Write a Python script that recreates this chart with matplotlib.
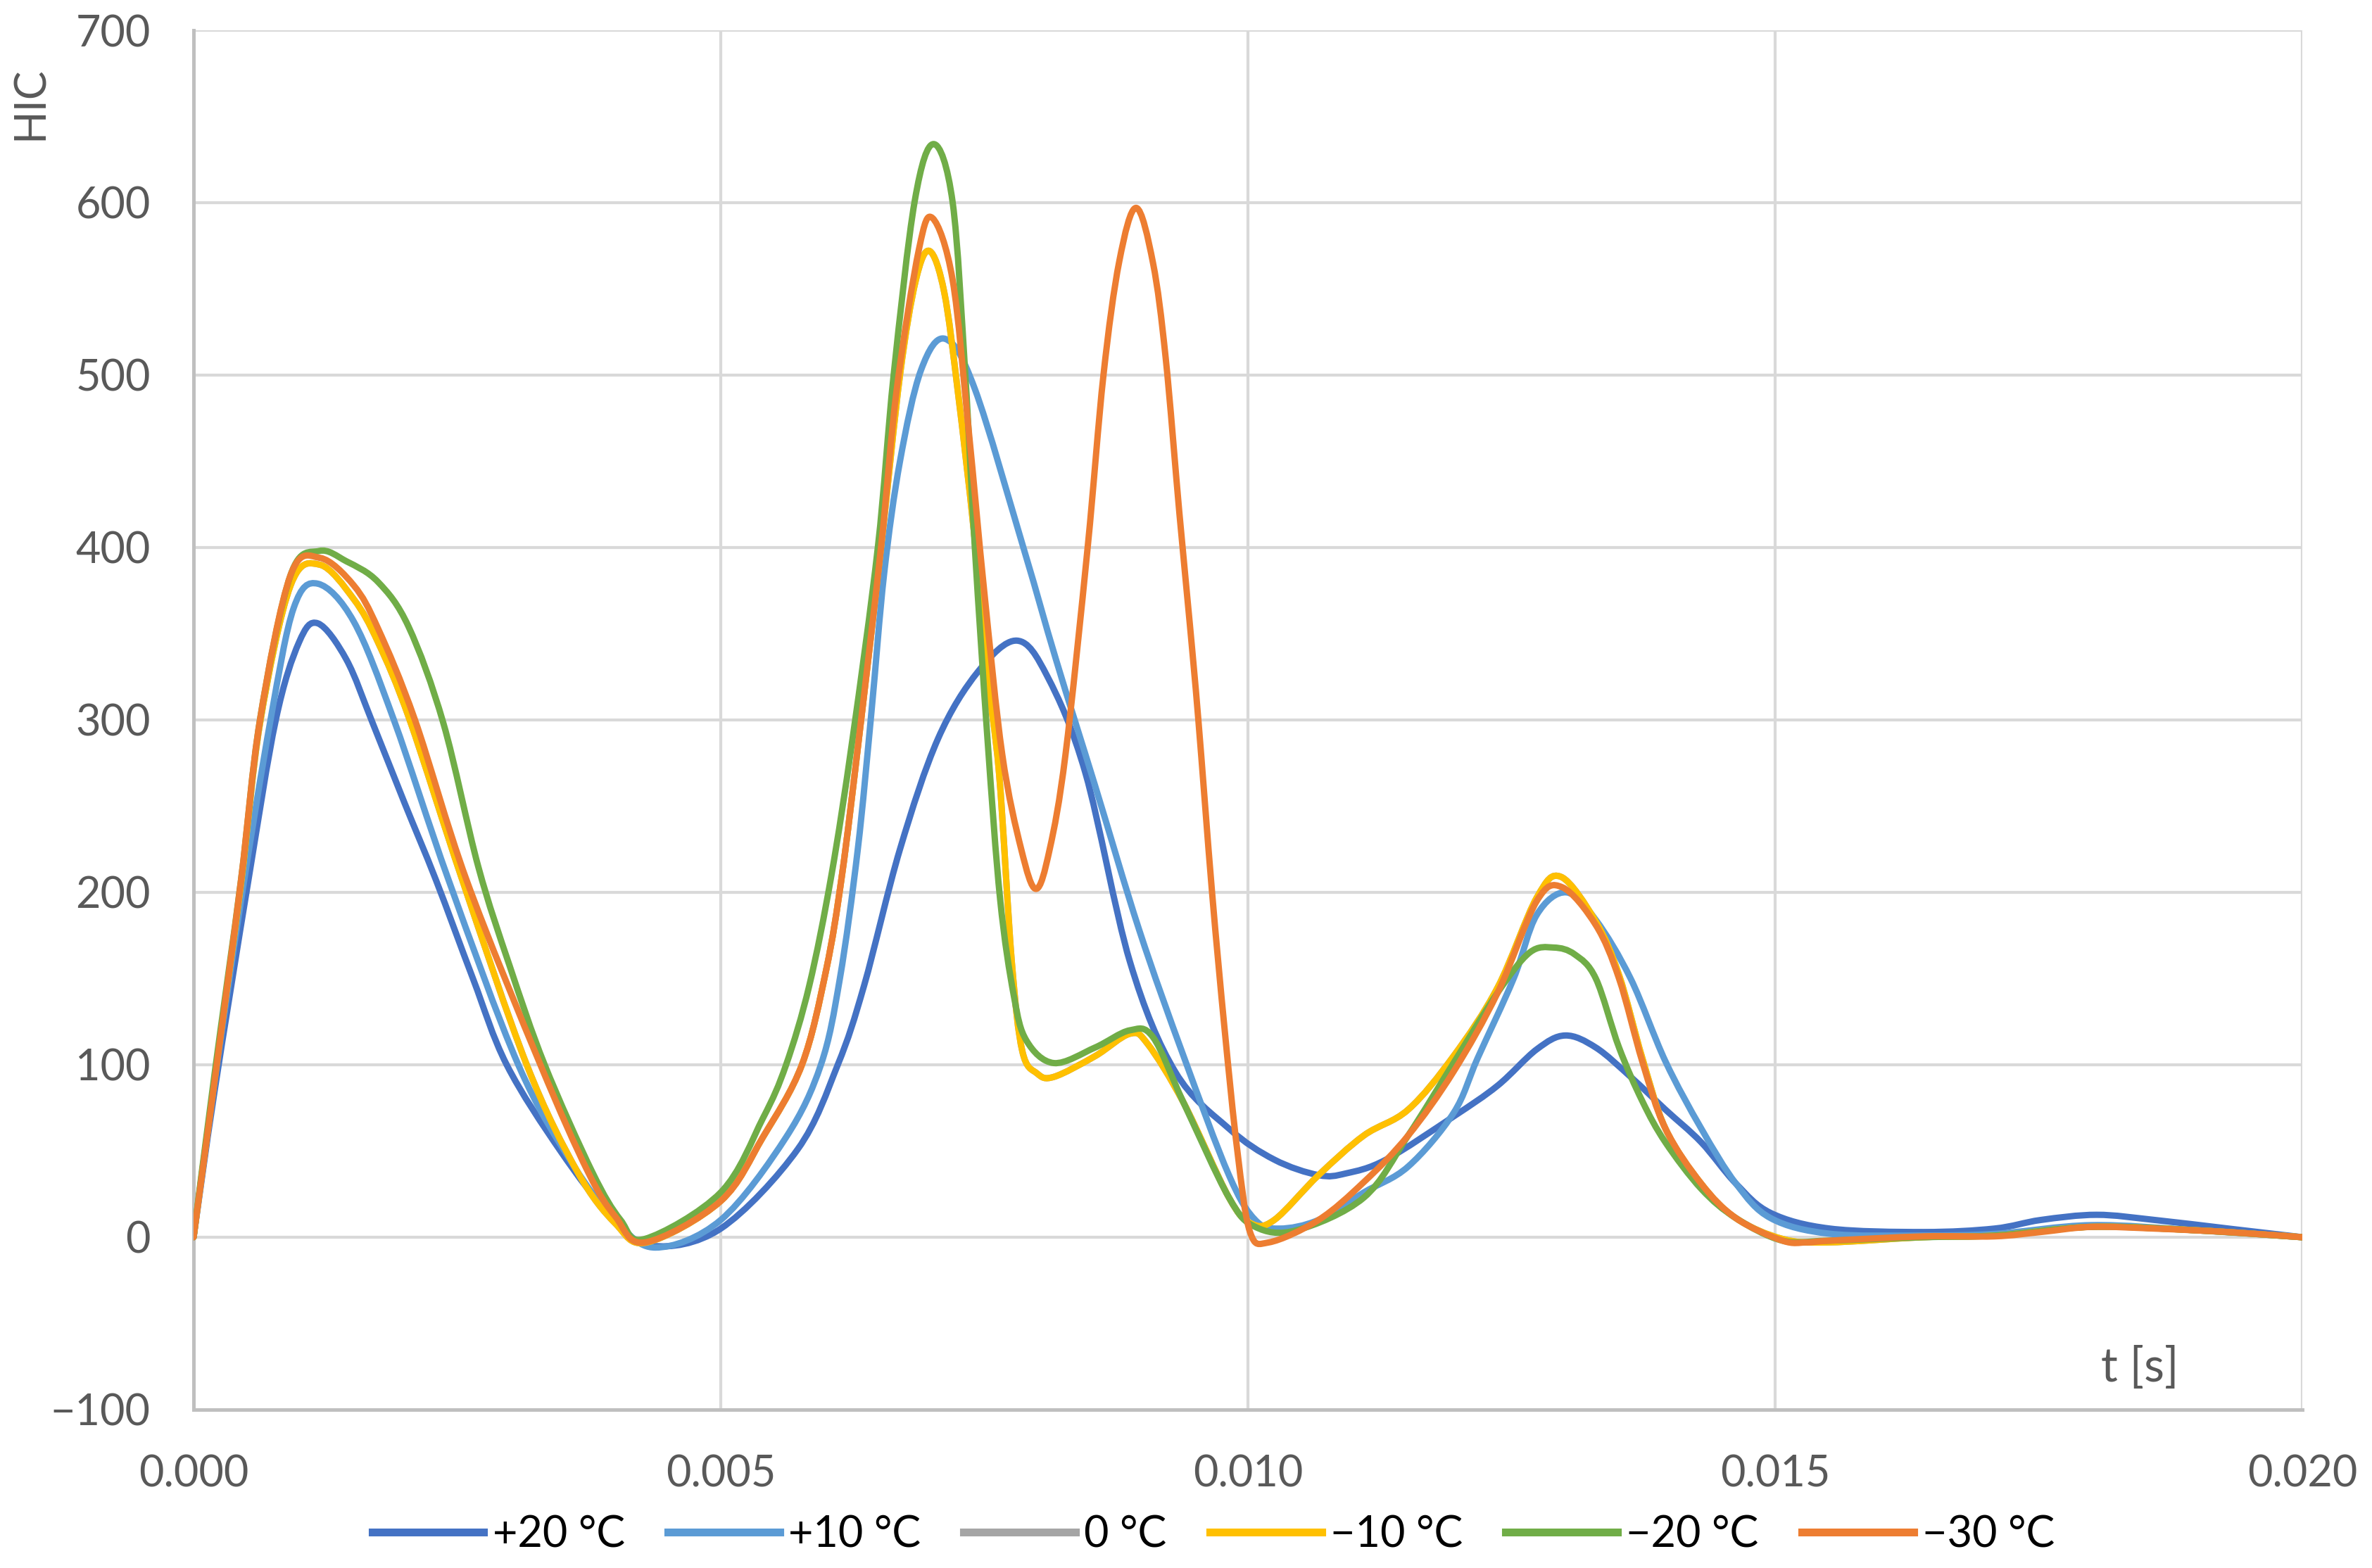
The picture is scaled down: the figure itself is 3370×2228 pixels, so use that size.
import matplotlib.pyplot as plt
from matplotlib.path import Path
from matplotlib.patches import PathPatch
from matplotlib.lines import Line2D
from matplotlib.ticker import FormatStrFormatter

plt.rcParams['font.family'] = ['Lato', 'DejaVu Sans']

# time in ms, HIC values
t_p20 = [0, 0.2, 0.52, 0.78, 1.0, 1.18, 1.45, 1.7, 2.0, 2.3, 2.65, 2.97, 3.48, 3.96, 4.35, 5.0,
         5.73, 6.11, 6.36, 6.7, 7.06, 7.44, 7.81, 8.1, 8.46, 8.88, 9.31, 9.82, 10.25, 10.67,
         10.93, 11.31, 11.95, 12.37, 12.74, 13.01, 13.3, 13.63, 13.96, 14.3, 14.63, 14.96,
         15.52, 16.41, 17.08, 17.52, 18.05, 18.6, 19.3, 20.0]
hic_p20 = [0, 85, 207, 300, 345, 356, 335, 298, 252, 207, 150, 100, 50, 12, -5, 5,
           51, 100, 146, 225, 289, 328, 346, 325, 269, 160, 96, 63, 45, 36,
           37, 45, 70, 88, 109, 117, 110, 93, 74, 55, 31, 14,
           5, 3, 5, 10, 13, 10, 5, 0]

t_p10 = [0, 0.2, 0.45, 0.73, 0.95, 1.18, 1.52, 1.9, 2.42, 3.08, 3.6, 4.0, 4.38, 5.0, 5.62,
         5.95, 6.13, 6.3, 6.43, 6.55, 6.7, 6.9, 7.13, 7.41, 7.88, 8.18, 8.55, 8.97, 9.39,
         9.82, 10.07, 10.3, 10.67, 11.1, 11.52, 11.95, 12.18, 12.52, 12.74, 13.02, 13.3,
         13.63, 13.96, 14.3, 14.63, 14.96, 15.52, 16.4, 17.1, 18.0, 19.0, 20.0]
hic_p10 = [0, 90, 195, 300, 365, 379, 357, 300, 207, 100, 42, 10, -6, 10, 58,
           100, 150, 225, 305, 385, 450, 503, 521, 492, 398, 335, 262, 178, 105,
           36, 10, 5, 10, 26, 41, 72, 104, 150, 187, 200, 184,
           150, 102, 63, 31, 11, 2, 1, 2, 7, 4, 0]

t_m10 = [0, 0.2, 0.45, 0.63, 0.92, 1.2, 1.52, 1.75, 2.05, 2.55, 3.16, 3.64, 4.0, 4.3, 5.0,
         5.4, 5.77, 6.0, 6.15, 6.31, 6.52, 6.7, 6.85, 6.98, 7.12, 7.25, 7.4, 7.52, 7.64, 7.76,
         7.86, 8.0, 8.16, 8.55, 8.88, 9.05, 9.39, 9.82, 10.03, 10.25, 10.67, 11.1, 11.52,
         11.95, 12.37, 12.74, 12.97, 13.3, 13.52, 13.74, 13.96, 14.3, 14.63, 15.07, 15.5,
         16.4, 17.1, 18.0, 19.0, 20.0]
hic_m10 = [0, 92, 205, 298, 378, 390, 370, 345, 300, 207, 100, 38, 8, -3, 21,
           58, 100, 155, 210, 289, 400, 500, 555, 572, 548, 490, 410, 330, 269, 160,
           108, 95, 93, 105, 118, 112, 78, 23, 8, 10, 36, 59, 74,
           105, 145, 197, 209, 183, 152, 104, 63, 31, 11, -1, -3,
           0, 1, 6, 4, 0]

# the 0 °C curve is not visible in the chart: it lies under the -10 °C one
t_0 = t_m10
hic_0 = hic_m10

t_m20 = [0, 0.2, 0.45, 0.63, 0.92, 1.19, 1.45, 1.75, 2.04, 2.37, 2.7, 3.0, 3.33, 3.78, 4.05,
         4.28, 5.0, 5.4, 5.62, 5.84, 6.05, 6.25, 6.49, 6.64, 6.84, 7.02, 7.2, 7.32, 7.41,
         7.53, 7.65, 7.78, 7.9, 8.16, 8.55, 8.88, 9.1, 9.39, 9.82, 10.07, 10.46, 11.1, 11.52,
         11.95, 12.37, 12.67, 12.9, 13.1, 13.3, 13.52, 13.74, 13.96, 14.3, 14.63, 15.07,
         15.5, 16.4, 17.1, 18.0, 19.0, 20.0]
hic_m20 = [0, 95, 207, 300, 384, 398, 392, 380, 354, 298, 215, 157, 100, 38, 10,
           -1, 26, 69, 100, 146, 210, 289, 400, 500, 601, 634, 600, 500, 400,
           289, 196, 140, 114, 101, 110, 120, 116, 78, 23, 6, 4, 23, 59,
           101, 142, 165, 168, 164, 150, 110, 79, 55, 28, 11, -2,
           -2, 0, 1, 6, 4, 0]

t_m30 = [0, 0.22, 0.45, 0.63, 0.92, 1.2, 1.52, 1.75, 2.1, 2.59, 3.29, 3.74, 4.0, 4.28, 5.0,
         5.4, 5.77, 6.0, 6.15, 6.31, 6.52, 6.67, 6.88, 7.01, 7.2, 7.35, 7.5, 7.67, 7.85, 7.99,
         8.12, 8.27, 8.48, 8.63, 8.78, 8.94, 9.1, 9.22, 9.35, 9.45, 9.53, 9.66, 9.78, 9.9,
         10.02, 10.2, 10.67, 11.1, 11.52, 11.95, 12.37, 12.74, 12.98, 13.3, 13.52, 13.74,
         13.96, 14.3, 14.63, 15.07, 15.3, 15.52, 16.41, 17.08, 17.52, 18.0, 18.6, 19.3, 20.0]
hic_m30 = [0, 100, 207, 300, 384, 394, 378, 353, 300, 207, 100, 38, 12, -3, 21,
           58, 100, 155, 210, 289, 400, 492, 573, 591, 555, 469, 374, 280, 225, 202,
           225, 280, 400, 500, 566, 597, 565, 510, 420, 355, 300, 200, 120, 50,
           3, -3, 10, 32, 59, 96, 142, 195, 203, 181, 150, 102,
           63, 31, 11, -2, -3, -2, 0.5, 0.5, 3, 6, 5, 3, 0]

labels = ['+20 °C', '+10 °C', '0 °C', '\u221210 °C', '\u221220 °C', '\u221230 °C']
colors = ['#4472C4', '#5B9BD5', '#A5A5A5', '#FFC000', '#70AD47', '#ED7D31']
series = [(t_p20, hic_p20), (t_p10, hic_p10), (t_0, hic_0),
          (t_m10, hic_m10), (t_m20, hic_m20), (t_m30, hic_m30)]

x_ticks = [0.000, 0.005, 0.010, 0.015, 0.020]
y_ticks = [-100, 0, 100, 200, 300, 400, 500, 600, 700]


def smooth_path(xs, ys):
    """Excel-like smoothed line: cubic Bezier segments through every point"""
    pts = list(zip(xs, ys))
    n = len(pts)
    verts = [pts[0]]
    codes = [Path.MOVETO]
    for i in range(n - 1):
        p0 = pts[max(i - 1, 0)]
        p1 = pts[i]
        p2 = pts[i + 1]
        p3 = pts[min(i + 2, n - 1)]
        c1 = (p1[0] + (p2[0] - p0[0]) / 6, p1[1] + (p2[1] - p0[1]) / 6)
        c2 = (p2[0] - (p3[0] - p1[0]) / 6, p2[1] - (p3[1] - p1[1]) / 6)
        verts += [c1, c2, p2]
        codes += [Path.CURVE4] * 3
    return Path(verts, codes)


fig = plt.figure(figsize=(33.7, 22.28), dpi=100)
ax = fig.add_axes([0.0816, 0.1010, 0.8890, 0.8797])

for (t, v), c in zip(series, colors):
    ts = [x / 1000 for x in t]  # ms -> s
    ax.add_patch(PathPatch(smooth_path(ts, v), facecolor='none', edgecolor=c,
                           lw=6.5, capstyle='round', joinstyle='round', zorder=3))

ax.set_xlim(0, 0.020)
ax.set_ylim(-100, 700)
ax.set_xticks(x_ticks)
ax.set_yticks(y_ticks)
ax.xaxis.set_major_formatter(FormatStrFormatter('%.3f'))
ax.grid(True, color='#d9d9d9', lw=3, zorder=0)
ax.tick_params(length=0, labelsize=44, labelcolor='#595959')
ax.tick_params(axis='y', pad=44)
ax.tick_params(axis='x', pad=46)

for s in ['top', 'right']:
    ax.spines[s].set_visible(False)
for s in ['left', 'bottom']:
    ax.spines[s].set_color('#bfbfbf')
    ax.spines[s].set_linewidth(3.6)
    ax.spines[s].set_zorder(2)

ax.text(0.01846, -76, 't [s]', fontsize=48, color='#595959', ha='center', va='center')
fig.text(0.0128, 0.934, 'HIC', rotation=90, fontsize=44, color='#595959',
         ha='center', va='center')

handles = [Line2D([], [], color=c, lw=8) for c in colors]
fig.legend(handles, labels, loc='center', bbox_to_anchor=(0.5115, 0.021),
           ncol=6, frameon=False, fontsize=44, handlelength=2.6,
           handletextpad=0.2, columnspacing=1.0)

fig.savefig('out.png', dpi=100, facecolor='white')
